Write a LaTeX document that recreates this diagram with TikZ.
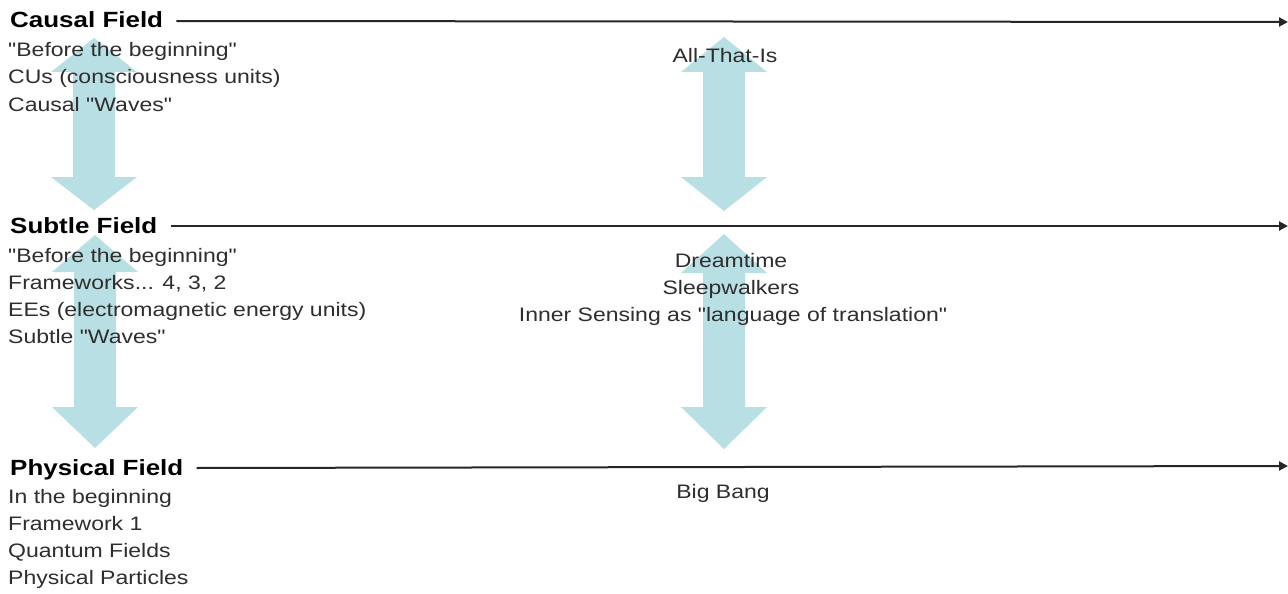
\documentclass[tikz,border=0pt]{standalone}
\usepackage{fontspec}
\setmainfont{Liberation Sans}[FakeStretch=1.18, Ligatures=TeXOff]
\usetikzlibrary{arrows.meta}
\definecolor{arrowblue}{HTML}{B8DFE3}
\definecolor{bodygray}{HTML}{2E2E2E}
\newcommand\dblblockarrow[5]{%
  \fill[blockarrow] (#1,#2) -- (#1+43,#3) -- (#1+21,#3) -- (#1+21,#4) -- (#1+43,#4)
    -- (#1,#5) -- (#1-43,#4) -- (#1-21,#4) -- (#1-21,#3) -- (#1-43,#3) -- cycle;}
\begin{document}
\begin{tikzpicture}[x=1pt,y=-1pt,
  headtxt/.style={font=\fontsize{22}{26}\selectfont\bfseries, text=black, inner sep=0pt, anchor=base west},
  bodytxt/.style={font=\fontsize{19.5}{27}\selectfont, text=bodygray, inner sep=0pt, anchor=base west},
  midtxt/.style={font=\fontsize{19.5}{27}\selectfont, text=bodygray, inner sep=0pt, anchor=base},
  fieldline/.style={line width=2pt, draw=black!85, -{Triangle[length=9pt,width=9pt]}},
  blockarrow/.style={fill=arrowblue, draw=none}]
\useasboundingbox (0,0) rectangle (1288,594);
\fill[white] (0,0) rectangle (1288,594);

% block arrows (behind text)
\dblblockarrow{94}{38}{72}{177}{210}
\dblblockarrow{95}{235}{272}{407}{448}
\dblblockarrow{724}{37}{72}{177}{211}
\dblblockarrow{724}{234}{273}{407}{449}

% Causal field
\node[headtxt] (cf) at (10,28) {Causal Field};
\node[bodytxt] (c1) at (8,57) {"Before the beginning"};
\node[bodytxt] (c2) at (8,84) {CUs (consciousness units)};
\node[bodytxt] (c3) at (8,111) {Causal "Waves"};

% Subtle field
\node[headtxt] (sf) at (10,233) {Subtle Field};
\node[bodytxt] (s1) at (8,262) {"Before the beginning"};
\node[bodytxt] (s2) at (8,289) {Frameworks... 4, 3, 2};
\node[bodytxt] (s3) at (8,316) {EEs (electromagnetic energy units)};
\node[bodytxt] (s4) at (8,343) {Subtle "Waves"};

% Physical field
\node[headtxt] (pf) at (10,475) {Physical Field};
\node[bodytxt] (p1) at (8,503) {In the beginning};
\node[bodytxt] (p2) at (8,530) {Framework 1};
\node[bodytxt] (p3) at (8,557) {Quantum Fields};
\node[bodytxt] (p4) at (8,584) {Physical Particles};

% middle column
\node[midtxt] (m1) at (725,63) {All-That-Is};
\node[midtxt] (m2) at (731,267) {Dreamtime};
\node[midtxt] (m3) at (731,294) {Sleepwalkers};
\node[midtxt] (m4) at (733,321) {Inner Sensing as "language of translation"};
\node[midtxt] (m5) at (723,498) {Big Bang};

% field lines
\coordinate (ce) at (1288,22);
\coordinate (se) at (1288,226);
\coordinate (pe) at (1288,466);
\draw[fieldline] ([xshift=13pt,yshift=7pt]cf.base east) -- (ce);
\draw[fieldline] ([xshift=13pt,yshift=7pt]sf.base east) -- (se);
\draw[fieldline] ([xshift=13pt,yshift=7pt]pf.base east) -- (pe);
\end{tikzpicture}
\end{document}
